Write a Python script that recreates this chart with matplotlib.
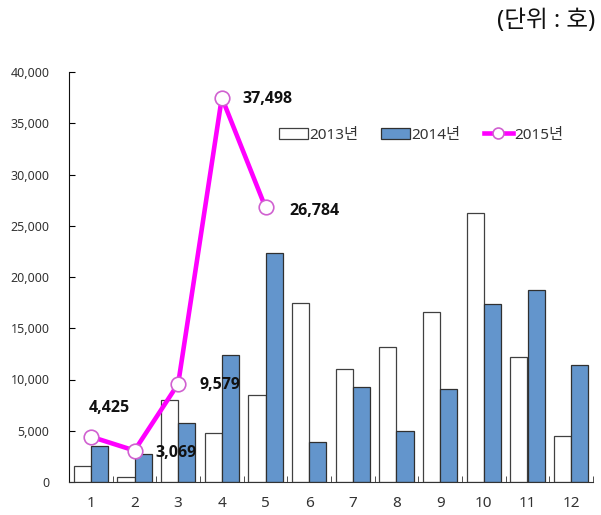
import matplotlib
matplotlib.use("Agg")
import matplotlib.pyplot as plt
import numpy as np
from matplotlib.ticker import FuncFormatter, FixedLocator

plt.rcParams['font.family'] = ['Noto Sans', 'Noto Sans CJK KR', 'DejaVu Sans']

months = ['1', '2', '3', '4', '5', '6', '7', '8', '9', '10', '11', '12']
v2013 = [1600, 500, 8000, 4800, 8500, 17500, 11000, 13200, 16600, 26200, 12200, 4500]
v2014 = [3500, 2700, 5800, 12400, 22300, 3900, 9300, 5000, 9100, 17400, 18700, 11400]
v2015 = [4425, 3069, 9579, 37498, 26784]
labels = ['2013년', '2014년', '2015년']
unit_text = '(단위 : 호)'

fig = plt.figure(figsize=(6.01, 5.15), dpi=100)
ax = fig.add_axes([69/601, 33/515, 524/601, 410/515])

x = np.arange(len(months))
w = 0.39
b1 = ax.bar(x - w/2, v2013, w, color='white', edgecolor='#404040', linewidth=0.9, label=labels[0], zorder=2)
b2 = ax.bar(x + w/2, v2014, w, color='#6395CC', edgecolor='#303030', linewidth=0.9, label=labels[1], zorder=2)
x15 = x[:len(v2015)]
ln, = ax.plot(x15, v2015, color='#FF00FF', linewidth=3.3, marker='o', markersize=10.5,
              markerfacecolor='white', markeredgecolor='#D060D0', markeredgewidth=1.2,
              label=labels[2], zorder=3)

offsets = [(0.43, 2830), (0.96, -200), (0.96, -100), (1.05, -100), (1.12, -390)]
for xi, v, (dx, dy) in zip(x15, v2015, offsets):
    ax.text(xi + dx, v + dy, f'{v:,}', fontsize=11.5, fontweight='bold',
            family=['Open Sans', 'DejaVu Sans'],
            ha='center', va='center', color='#111111', zorder=4)

ax.set_xlim(-0.5, 11.5)
ax.set_ylim(0, 40000)
ax.set_yticks(np.arange(0, 40001, 5000))
ax.yaxis.set_major_formatter(FuncFormatter(lambda v, p: f'{int(v):,}'))
ax.set_xticks(x)
ax.set_xticklabels(months)
ax.xaxis.set_minor_locator(FixedLocator(np.arange(-0.5, 12, 1)))
ax.tick_params(axis='x', which='major', length=0, labelsize=11, colors='#333333', pad=10)
ax.tick_params(axis='x', which='minor', direction='in', length=4, color='#333333')
ax.tick_params(axis='y', direction='in', length=4, labelsize=9, labelcolor='#333333', pad=14)
for s in ['top', 'right']:
    ax.spines[s].set_visible(False)
ax.spines['left'].set_color('#111111')
ax.spines['bottom'].set_color('#333333')

leg = ax.legend(handles=[b1, b2, ln], labels=labels, loc='center left',
                bbox_to_anchor=(0.40, 0.846), ncol=3, frameon=False,
                fontsize=11, handlelength=1.9, handletextpad=0.1, columnspacing=1.5,
                borderaxespad=0, borderpad=0, markerscale=0.75)
for t in leg.get_texts():
    t.set_color('#333333')

fig.text(595/601, 1 - 21/515, unit_text, fontsize=17, ha='right', va='center', color='#111111')

fig.savefig('out.png', dpi=100)
